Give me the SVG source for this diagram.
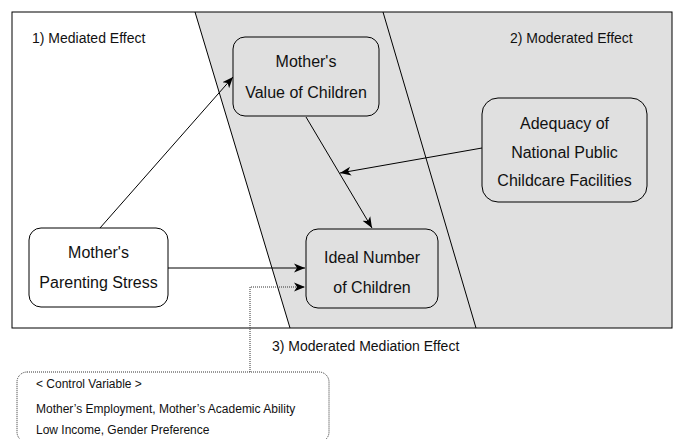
<svg xmlns="http://www.w3.org/2000/svg" width="677" height="439" viewBox="0 0 677 439">
<style>
text{font-family:"Liberation Sans",Arial,sans-serif;fill:#111}
.n{font-size:16px;text-anchor:middle}
.l{font-size:14px}
.c{font-size:12px}
.box{stroke:#000;stroke-width:1}
.edge{stroke:#000;stroke-width:1;fill:none}
.dot{stroke:#333;stroke-width:1;fill:none;stroke-dasharray:1 1}
</style>
<defs>
<marker id="ah" markerUnits="userSpaceOnUse" markerWidth="12" markerHeight="10" refX="11" refY="5" orient="auto" viewBox="0 0 12 10">
<path d="M0,0.5 L11,5 L0,9.5 L3,5 Z" fill="#000"/>
</marker>
</defs>
<g id="background">
<rect x="12" y="12" width="660" height="316" fill="#fff"/>
<polygon points="195,12 672,12 672,328 290,328" fill="#e0e0e0"/>
<line x1="195" y1="12" x2="290" y2="328" stroke="#000"/>
<line x1="383" y1="12" x2="476" y2="328" stroke="#000"/>
<rect x="12" y="12" width="660" height="316" fill="none" stroke="#000"/>
</g>
<g id="labels">
<text class="l" x="32" y="43">1) Mediated Effect</text>
<text class="l" x="510" y="43">2) Moderated Effect</text>
<text class="l" x="272" y="351">3) Moderated Mediation Effect</text>
</g>
<g id="connectors">
<line class="edge" x1="100" y1="228" x2="233" y2="77" marker-end="url(#ah)"/>
<line class="edge" x1="168" y1="268" x2="305" y2="268" marker-end="url(#ah)"/>
<line class="edge" x1="306" y1="117" x2="372" y2="228" marker-end="url(#ah)"/>
<line class="edge" x1="482" y1="148" x2="340" y2="173" marker-end="url(#ah)"/>
<polyline class="dot" points="250,372 250,287 305,287" marker-end="url(#ah)"/>
</g>
<g id="value">
<rect class="box" x="233" y="37" width="146" height="79" rx="12" fill="#e0e0e0"/>
<text class="n" x="306" y="67">Mother's</text>
<text class="n" x="306" y="98">Value of Children</text>
</g>
<g id="stress">
<rect class="box" x="29" y="228" width="139" height="79" rx="12" fill="#fff"/>
<text class="n" x="98.5" y="258">Mother's</text>
<text class="n" x="98.5" y="288">Parenting Stress</text>
</g>
<g id="ideal">
<rect class="box" x="306" y="229" width="132" height="79" rx="12" fill="#e0e0e0"/>
<text class="n" x="372" y="263">Ideal Number</text>
<text class="n" x="372" y="293">of Children</text>
</g>
<g id="adequacy">
<rect class="box" x="482" y="98" width="165" height="104" rx="16" fill="#e0e0e0"/>
<text class="n" x="564.5" y="129">Adequacy of</text>
<text class="n" x="564.5" y="157.5">National Public</text>
<text class="n" x="564.5" y="186">Childcare Facilities</text>
</g>
<g id="control">
<rect class="dot" x="17" y="372" width="312" height="70" rx="10"/>
<text class="c" x="36" y="387.5">&lt; Control Variable &gt;</text>
<text class="c" x="36" y="412.5">Mother’s Employment, Mother’s Academic Ability</text>
<text class="c" x="36" y="433.5">Low Income, Gender Preference</text>
</g>
</svg>
